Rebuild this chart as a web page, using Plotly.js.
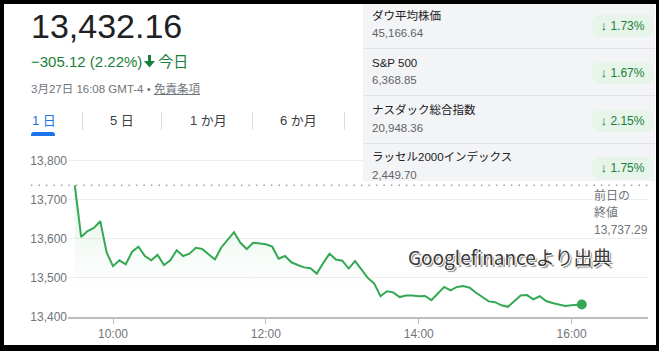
<!DOCTYPE html>
<html>
<head>
<meta charset="utf-8">
<script src="https://cdn.plot.ly/plotly-3.0.1.min.js"></script>
<style>
html,body{margin:0;padding:0;}
body{width:659px;height:351px;position:relative;overflow:hidden;background:#000;font-family:Arial,"Liberation Sans","Noto Sans CJK JP",sans-serif;}
#page{position:absolute;left:4px;top:4px;width:652px;height:341px;background:#fff;}
#chart{position:absolute;left:0;top:0;width:659px;height:351px;}
.abs{position:absolute;white-space:nowrap;}
#panel{position:absolute;left:363px;top:4px;width:292px;height:177px;background:#f3f4f6;overflow:hidden;}
.sep{position:absolute;left:0;width:292px;height:1px;background:#e1e3e6;}
.nm{position:absolute;left:9px;font-size:11.5px;color:#202124;line-height:14px;}
.pv{position:absolute;left:9px;font-size:11.5px;color:#5f6368;line-height:14px;}
.pill{position:absolute;left:229px;width:61px;height:22px;line-height:22px;border-radius:8px;background:#e6f4ea;color:#188038;font-size:12px;text-align:center;}
.tab{position:absolute;top:113px;font-size:13px;line-height:16px;color:#3c4043;}
.tsep{position:absolute;top:112px;width:1px;height:18px;background:#dadce0;}
</style>
</head>
<body>
<div id="page"></div>
<div id="chart"></div>
<div id="overlay"></div>
<script>
// ---- data ----
var times = ["09:30","09:35","09:40","09:45","09:50","09:55","10:00","10:05","10:10","10:15",
  "10:20","10:25","10:30","10:35","10:40","10:45","10:50","10:55","11:00","11:05",
  "11:10","11:15","11:20","11:25","11:30","11:35","11:40","11:45","11:50","11:55",
  "12:00","12:05","12:10","12:15","12:20","12:25","12:30","12:35","12:40","12:45",
  "12:50","12:55","13:00","13:05","13:10","13:15","13:20","13:25","13:30","13:35",
  "13:40","13:45","13:50","13:55","14:00","14:05","14:10","14:15","14:20","14:25",
  "14:30","14:35","14:40","14:45","14:50","14:55","15:00","15:05","15:10","15:15",
  "15:20","15:25","15:30","15:35","15:40","15:45","15:50","15:55","16:00","16:08"];
var values = [13737,13605,13620,13628,13645,13565,13530,13545,13535,13567,
  13580,13556,13545,13559,13533,13545,13571,13556,13562,13577,
  13574,13561,13547,13578,13597,13617,13590,13574,13590,13588,
  13586,13580,13549,13556,13540,13533,13527,13525,13511,13538,
  13562,13547,13544,13524,13543,13522,13500,13486,13453,13466,
  13463,13451,13455,13455,13453,13454,13443,13460,13477,13468,
  13477,13479,13475,13462,13450,13440,13438,13430,13426,13441,
  13455,13456,13445,13453,13441,13436,13432,13428,13430,13432.16];
var prevClose = 13737.29;
var yTicks = [13400,13500,13600,13700,13800];
var yTickText = ["13,400","13,500","13,600","13,700","13,800"];
var xTicks = ["10:00","12:00","14:00","16:00"];
var tradeDate = "2026-03-27";

var headline = "13,432.16";
var changeText = "\u2212305.12 (2.22%)";
var todayText = "今日";
var dateText = "3月27日 16:08 GMT-4 • ";
var disclaimerText = "免責条項";
var tabLabels = ["1 日","5 日","1 か月","6 か月"];
var idxNames = ["ダウ平均株価","S&P 500","ナスダック総合指数","ラッセル2000インデックス"];
var idxPrices = ["45,166.64","6,368.85","20,948.36","2,449.70"];
var idxChanges = ["1.73%","1.67%","2.15%","1.75%"];
var prevLabel = ["前日の","終値","13,737.29"];
var sourceText = "Googlefinanceより出典";

// ---- chart ----
var xs = times.map(function(t){return tradeDate+" "+t;});
var green = "#34a853";
var traces = [
  {x: xs, y: values, type:"scatter", mode:"lines",
   line:{color:green, width:2},
   fill:"tozeroy",
   fillgradient:{type:"vertical", start:13470, stop:13740,
     colorscale:[[0,"rgba(52,168,83,0)"],[1,"rgba(52,168,83,0.13)"]]},
   hoverinfo:"skip"},
  {x:[xs[xs.length-1]], y:[values[values.length-1]], type:"scatter", mode:"markers",
   marker:{color:green, size:10}, hoverinfo:"skip"}
];
var layout = {
  width:659, height:351,
  margin:{l:68, r:11, t:156, b:34},
  paper_bgcolor:"rgba(0,0,0,0)", plot_bgcolor:"rgba(0,0,0,0)",
  showlegend:false,
  font:{family:"Arial, Liberation Sans, sans-serif", color:"#70757a", size:12},
  xaxis:{type:"date",
    range:[tradeDate+" 09:24:40", tradeDate+" 17:00"],
    tickvals: xTicks.map(function(t){return tradeDate+" "+t;}),
    ticktext: xTicks,
    showgrid:false, zeroline:false,
    showline:true, linecolor:"#bdbdbd", linewidth:1.5,
    ticks:"outside", ticklen:5, tickcolor:"#bdbdbd", tickwidth:1,
    tickfont:{size:12, color:"#70757a"}, fixedrange:true},
  yaxis:{range:[13400,13812],
    tickvals:yTicks, ticktext:yTickText,
    showgrid:true, gridcolor:"#eeeeee", gridwidth:1,
    zeroline:false, showline:false, ticks:"",
    tickfont:{size:12, color:"#70757a"}, fixedrange:true},
  shapes:[{type:"line", xref:"paper", yref:"y",
    x0:-0.064, x1:1, y0:prevClose, y1:prevClose,
    line:{color:"#9aa0a6", width:1.5, dash:"1.5px,6px"}}]
};
Plotly.newPlot("chart", traces, layout, {staticPlot:true, displayModeBar:false});

// ---- surrounding page ----
var ov = document.getElementById("overlay");
function add(html){ov.insertAdjacentHTML("beforeend", html);}
var arrowSvg = '<svg width="11" height="13" viewBox="0 0 11 13" style="vertical-align:-1px;margin:0 3px 0 2px;"><rect x="4" y="0" width="3" height="7" fill="#188038"/><polygon points="0,6 11,6 5.5,12.5" fill="#188038"/></svg>';
add('<div class="abs" style="left:31px;top:9px;font-size:34px;line-height:34px;color:#202124;">'+headline+'</div>');
add('<div class="abs" style="left:31px;top:53px;font-size:15px;line-height:18px;color:#188038;">'+changeText+arrowSvg+todayText+'</div>');
add('<div class="abs" style="left:31px;top:82px;font-size:11.5px;line-height:14px;color:#70757a;">'+dateText+'<span style="text-decoration:underline;">'+disclaimerText+'</span></div>');
var tabLeft = [32,110,190,280];
tabLabels.forEach(function(t,i){
  add('<div class="tab" style="left:'+tabLeft[i]+'px;'+(i===0?'color:#1a73e8;':'')+'">'+t+'</div>');
});
[82,161,252,344].forEach(function(x){add('<div class="tsep" style="left:'+x+'px;"></div>');});
add('<div class="abs" style="left:31px;top:132px;width:24px;height:3.5px;background:#1a73e8;border-radius:3px 3px 0 0;"></div>');

var panel = '<div id="panel">';
idxNames.forEach(function(n,i){
  var y0 = i*47.3;
  panel += '<div class="nm" style="top:'+(y0+4.5)+'px;">'+n+'</div>';
  panel += '<div class="pv" style="top:'+(y0+22)+'px;">'+idxPrices[i]+'</div>';
  panel += '<div class="pill" style="top:'+(y0+11)+'px;"><span style="font-size:13px;">↓</span> '+idxChanges[i]+'</div>';
  if(i<3) panel += '<div class="sep" style="top:'+(y0+44)+'px;"></div>';
});
panel += '</div>';
add(panel);

prevLabel.forEach(function(t,i){
  add('<div class="abs" style="left:594px;top:'+(188+i*17)+'px;font-size:12px;line-height:16px;color:#70757a;">'+t+'</div>');
});
add('<div class="abs" style="left:408px;top:245px;font-size:19px;line-height:24px;color:#3a3a3a;font-family:\'Noto Sans CJK JP\',sans-serif;text-shadow:-1px 0 #fff,1px 0 #fff,0 -1px #fff,0 1px #fff,2px 2px 1px #888;">'+sourceText+'</div>');
</script>
</body>
</html>
